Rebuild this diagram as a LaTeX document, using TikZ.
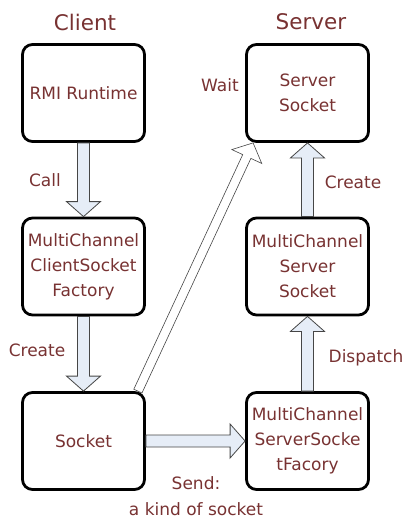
\documentclass[tikz,border=0pt]{standalone}
\usepackage{fontspec}
\setmainfont{DejaVu Sans}
\usepackage{xcolor}
\usetikzlibrary{calc}

\definecolor{textred}{RGB}{120,50,50}
\definecolor{arrowblue}{RGB}{230,237,247}
\definecolor{arrowgray}{RGB}{70,70,70}

\tikzset{
  box/.style={draw=black, line width=2.8pt, rounded corners=10pt, fill=white,
    minimum width=122pt, minimum height=97pt, align=center,
    text=textred, font=\fontsize{17}{25}\selectfont},
  side/.style={text=textred, align=center, font=\fontsize{17}{26}\selectfont},
  title/.style={text=textred, font=\fontsize{21.5}{24}\selectfont},
  bluearrow/.style={draw=arrowgray, line width=0.8pt, fill=arrowblue, line join=miter},
  whitearrow/.style={draw=arrowgray, line width=0.6pt, fill=white, line join=miter}
}

% block arrow: style, from, to, shaft half width, head half width
\newcommand{\fatarrow}[5][bluearrow]{%
  \coordinate (hb) at ($(#3)!15pt!(#2)$);
  \draw[#1] ($(#2)!#4!90:(#3)$) -- ($(hb)!#4!90:(#3)$) -- ($(hb)!#5!90:(#3)$)
    -- (#3) -- ($(hb)!#5!-90:(#3)$) -- ($(hb)!#4!-90:(#3)$)
    -- ($(#2)!#4!-90:(#3)$) -- cycle;
}

\begin{document}
\begin{tikzpicture}[x=1pt, y=-1pt]
		\useasboundingbox (0,0) rectangle (404,520);

		\node[title] (client) at (85,22) {Client};
		\node[title] (server) at (311,22) {Server};

		% Boxes
		\node[box] (rmi) at (83.5,93) {RMI Runtime};
		\node[box] (ssock) at (307.5,93) {Server\\Socket};
		\node[box] (mccsf) at (83.5,266.5) {MultiChannel\\ClientSocket\\Factory};
		\node[box] (mcss) at (307.5,266.5) {MultiChannel\\Server\\Socket};
		\node[box] (sock) at (83.5,441) {Socket};
		\node[box] (mcssf) at (307.5,441) {MultiChannel\\ServerSocke\\tFacory};

		\coordinate (waitfrom) at ($(sock.north east)+(-8,0)$);
		\coordinate (waitto) at ($(ssock.south west)+(8,0)$);

		% Arrows
		\fatarrow{rmi.south}{mccsf.north}{6pt}{17pt}
		\fatarrow{mccsf.south}{sock.north}{6pt}{17pt}
		\fatarrow{sock.east}{mcssf.west}{6pt}{17pt}
		\fatarrow{mcssf.north}{mcss.south}{6pt}{17pt}
		\fatarrow{mcss.north}{ssock.south}{6pt}{17pt}
		\fatarrow[whitearrow]{waitfrom}{waitto}{4.5pt}{16.5pt}

		% Labels
		\node[side] (call) at (45,180) {Call};
		\node[side] (create1) at (37,350) {Create};
		\node[side] (wait) at (220,85) {Wait};
		\node[side] (create2) at (353,182) {Create};
		\node[side] (dispatch) at (366,358) {Dispatch};
		\node[side] (send) at (196,496) {Send:\\a kind of socket};
	  \end{tikzpicture}
\end{document}
